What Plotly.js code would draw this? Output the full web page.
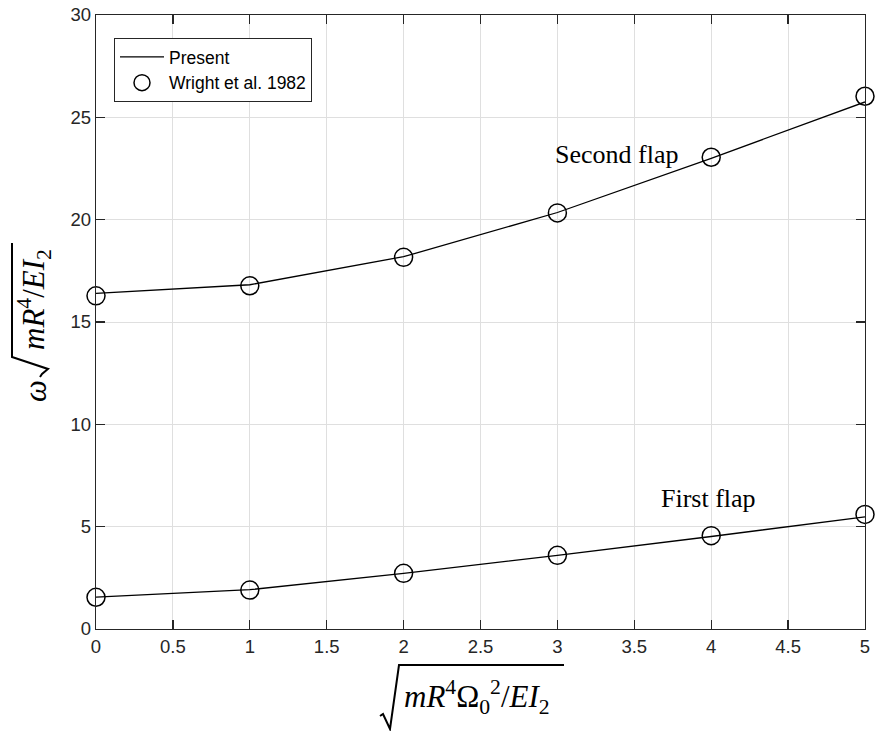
<!DOCTYPE html>
<html>
<head>
<meta charset="utf-8">
<script src="https://cdn.plot.ly/plotly-3.0.1.min.js"></script>
<style>html,body{margin:0;padding:0;background:#fff;}</style>
</head>
<body>
<div id="chart" style="width:877px;height:731px;"></div>
<script>
// Data
const xVals = [0, 1, 2, 3, 4, 5];
const secondPresent = [16.4, 16.82, 18.19, 20.35, 23.0, 25.75];
const firstPresent  = [1.56, 1.92, 2.72, 3.6, 4.52, 5.48];
const secondWright  = [16.28, 16.77, 18.16, 20.33, 23.05, 26.03];
const firstWright   = [1.55, 1.9, 2.72, 3.6, 4.56, 5.6];
const xTicks = [0, 0.5, 1, 1.5, 2, 2.5, 3, 3.5, 4, 4.5, 5];
const xTickText = ['0','0.5','1','1.5','2','2.5','3','3.5','4','4.5','5'];
const yTicks = [0, 5, 10, 15, 20, 25, 30];
const yTickText = ['0','5','10','15','20','25','30'];
const legendNames = ['Present', 'Wright et al. 1982'];
const curveLabels = ['Second flap', 'First flap'];

// plot-area pixel frame and helpers to place decorations in paper units
const W = 877, H = 731;
const PL = 96, PR = 865, PT = 15, PB = 629;
const fx = p => (p - PL) / (PR - PL);
const fy = p => (PB - p) / (PB - PT);
const path = pts => 'M ' + pts.map(p => fx(p[0]) + ',' + fy(p[1])).join(' L ');

const lineStyle = {color: '#000', width: 1.3};
const markerStyle = {symbol: 'circle-open', size: 18, color: '#000', line: {color: '#000', width: 1.5}};

const traces = [
  {x: xVals, y: secondPresent, mode: 'lines', line: lineStyle, name: legendNames[0], showlegend: true, cliponaxis: false},
  {x: xVals, y: firstPresent, mode: 'lines', line: lineStyle, name: legendNames[0], showlegend: false, cliponaxis: false},
  {x: xVals, y: secondWright, mode: 'markers', marker: markerStyle, name: legendNames[1], showlegend: true, cliponaxis: false},
  {x: xVals, y: firstWright, mode: 'markers', marker: markerStyle, name: legendNames[1], showlegend: false, cliponaxis: false}
];

const tickFont = {family: 'Liberation Sans, Arial, sans-serif', size: 18.5, color: '#262626'};
const mathFont = {family: 'Liberation Serif, Times New Roman, serif', size: 31, color: '#000'};
const labelFont = {family: 'Liberation Serif, Times New Roman, serif', size: 26, color: '#000'};

const axisCommon = {
  showgrid: true, gridcolor: '#dfdfdf', gridwidth: 1,
  zeroline: false, showline: true, linecolor: '#262626', linewidth: 1.3,
  mirror: 'ticks', ticks: 'inside', ticklen: 9, tickcolor: '#262626', tickwidth: 1.3,
  tickfont: tickFont
};

const layout = {
  width: W, height: H,
  margin: {l: PL, r: W - PR, t: PT, b: H - PB},
  paper_bgcolor: '#fff', plot_bgcolor: '#fff',
  showlegend: true,
  legend: {
    x: fx(114), y: fy(38), xanchor: 'left', yanchor: 'top',
    bgcolor: '#fff', bordercolor: '#262626', borderwidth: 1,
    font: {family: 'Liberation Sans, Arial, sans-serif', size: 17.5, color: '#000'},
    tracegroupgap: 0, itemwidth: 44
  },
  xaxis: Object.assign({range: [0, 5], tickvals: xTicks, ticktext: xTickText}, axisCommon),
  yaxis: Object.assign({range: [0, 30], tickvals: yTicks, ticktext: yTickText}, axisCommon),
  annotations: [
    {x: 3.387, y: 23.2, xref: 'x', yref: 'y', text: curveLabels[0], showarrow: false, font: labelFont},
    {x: 3.98, y: 6.36, xref: 'x', yref: 'y', text: curveLabels[1], showarrow: false, font: labelFont},
    // x-axis title (radicand)
    {x: fx(402), y: fy(697), xref: 'paper', yref: 'paper', xanchor: 'left', yanchor: 'middle',
     text: '<i>mR</i><sup>4</sup>Ω<sub>0</sub><sup>2</sup>/<i>EI</i><sub>2</sub>',
     showarrow: false, font: mathFont},
    // y-axis title: omega and radicand
    {x: fx(35), y: fy(391), xref: 'paper', yref: 'paper', xanchor: 'center', yanchor: 'middle', textangle: -90,
     text: '<i>ω</i>', showarrow: false, font: mathFont},
    {x: fx(34), y: fy(300), xref: 'paper', yref: 'paper', xanchor: 'center', yanchor: 'middle', textangle: -90,
     text: '<i>mR</i><sup>4</sup>/<i>EI</i><sub>2</sub>', showarrow: false, font: mathFont}
  ],
  shapes: [
    // radical sign of x-axis title
    {type: 'path', xref: 'paper', yref: 'paper', line: {color: '#000', width: 2},
     path: path([[380, 716], [383, 714], [390, 729], [399, 665], [564, 665]])},
    // radical sign of y-axis title
    {type: 'path', xref: 'paper', yref: 'paper', line: {color: '#000', width: 2},
     path: path([[40, 377], [42, 374], [48, 369], [12, 357], [12, 243]])}
  ]
};

Plotly.newPlot('chart', traces, layout, {displayModeBar: false, staticPlot: true});
</script>
</body>
</html>
